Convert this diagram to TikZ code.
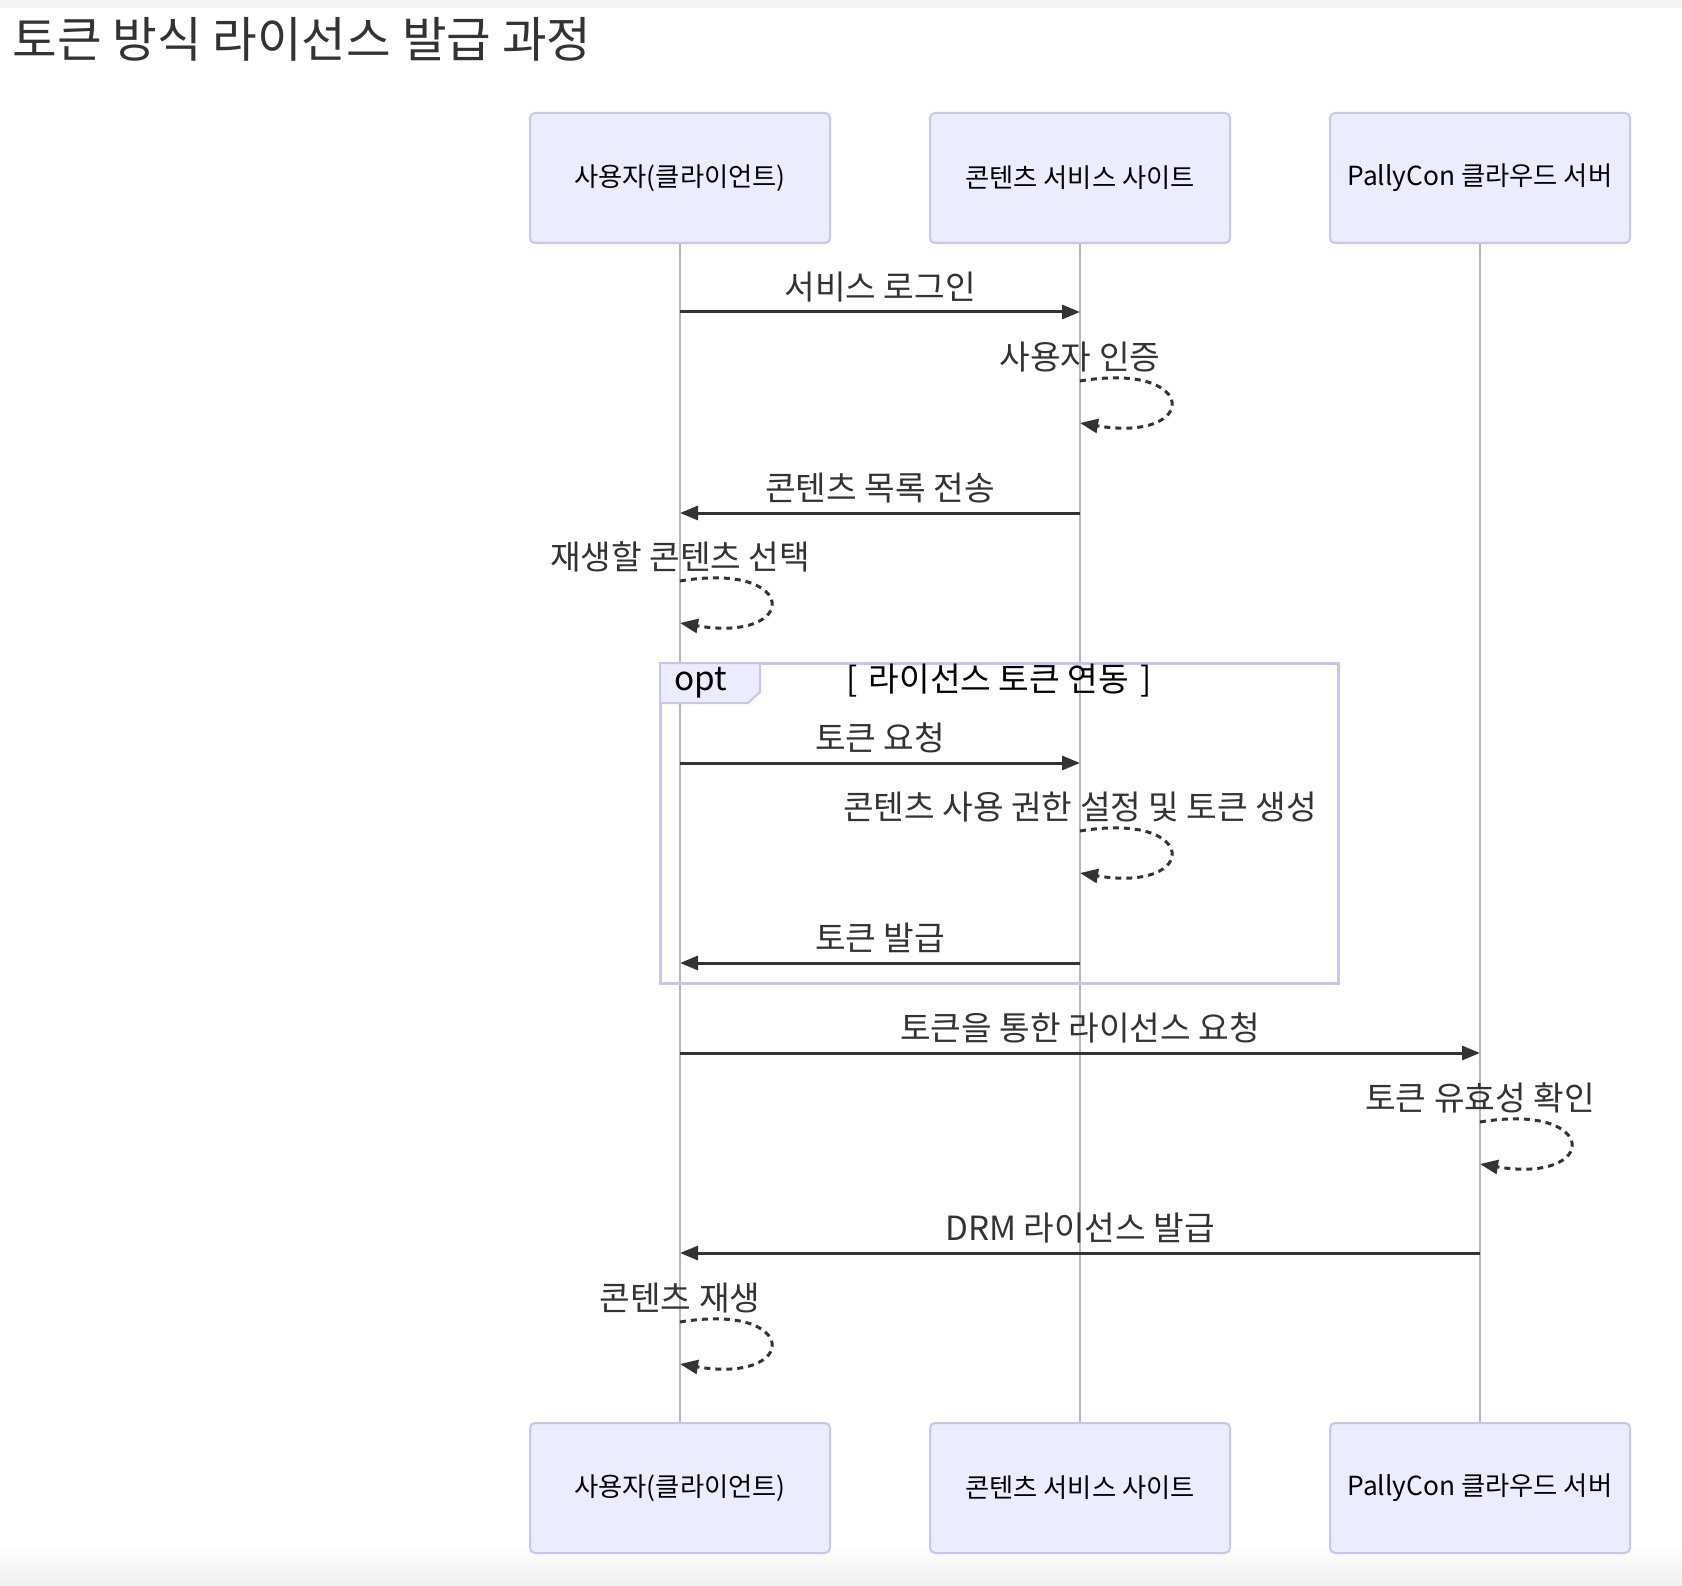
\documentclass[tikz,border=0pt]{standalone}
\usepackage{fontspec}
\setmainfont{Noto Sans CJK KR}
\usetikzlibrary{arrows.meta}
\definecolor{actfill}{HTML}{ECECFF}
\definecolor{actline}{HTML}{CAC4F3}
\definecolor{msgcol}{HTML}{333333}
\definecolor{lifecol}{HTML}{B8B8B8}
\tikzset{
	actor/.style={draw=actline, fill=actfill, line width=2pt, rounded corners=5pt, minimum width=300pt, minimum height=130pt, font=\fontsize{26.3}{31}\selectfont, text=black},
	life/.style={draw=lifecol, line width=1.6pt},
	msg/.style={draw=msgcol, line width=3pt, -{Triangle[length=18pt,width=14pt]}},
	loopline/.style={draw=msgcol, line width=3pt, dash pattern=on 6pt off 5pt, -{Triangle[length=18pt,width=14pt]}},
	lbl/.style={text=msgcol, font=\fontsize{33.3}{40}\selectfont, inner sep=0pt},
}
\def\selfloop(#1){\draw[loopline] (#1) .. controls ([shift={(120,-20)}]#1) and ([shift={(120,62)}]#1) .. ([shift={(0,42)}]#1);}

\begin{document}
\begin{tikzpicture}[x=1pt, y=-1pt]
		%%%%% START %%%%%
		\useasboundingbox (0,0) rectangle (1682,1586);
		\fill[white] (0,0) rectangle (1682,1586);
		\fill[black!4] (0,0) rectangle (1682,8);
		\shade[top color=white, bottom color=black!6] (0,1545) rectangle (1682,1586);
		
		\node[anchor=west, text=msgcol, font=\fontsize{48.5}{56}\selectfont] (title) at (9,39) {토큰 방식 라이선스 발급 과정};
		
		% actors
		\node[actor] (user) at (680,178) {사용자(클라이언트)};
		\node[actor] (site) at (1080,178) {콘텐츠 서비스 사이트};
		\node[actor] (cloud) at (1480,178) {PallyCon 클라우드 서버};
		\node[actor] (user2) at (680,1488) {사용자(클라이언트)};
		\node[actor] (site2) at (1080,1488) {콘텐츠 서비스 사이트};
		\node[actor] (cloud2) at (1480,1488) {PallyCon 클라우드 서버};
		
		\draw[life] (user) -- (user2);
		\draw[life] (site) -- (site2);
		\draw[life] (cloud) -- (cloud2);
		
		% opt frame
		\draw[actline, line width=3pt] (660,663) rectangle (1338,983);
		\draw[actline, fill=actfill, line width=2pt] (660,663) -- (760,663) -- (760,692) -- (748,703) -- (660,703) -- cycle;
		\node[lbl, anchor=west, text=black] (opt) at (674,683) {opt};
		\node[lbl, text=black] (cond) at (999,681) {[\,\,라이선스 토큰 연동\,\,]};
		
		% messages
		\node[lbl] (m1) at (880,287) {서비스 로그인};
		\draw[msg] (user |- 0,312) -- (site |- 0,312);
		
		\node[lbl] (s1) at (1080,357) {사용자 인증};
		\coordinate (a1) at (1080,381);
		\selfloop(a1)
		
		\node[lbl] (m2) at (880,488) {콘텐츠 목록 전송};
		\draw[msg] (site |- 0,513) -- (user |- 0,513);
		
		\node[lbl] (s2) at (680,557) {재생할 콘텐츠 선택};
		\coordinate (a2) at (680,581);
		\selfloop(a2)
		
		\node[lbl] (m3) at (880,738) {토큰 요청};
		\draw[msg] (user |- 0,763) -- (site |- 0,763);
		
		\node[lbl] (s3) at (1080,807) {콘텐츠 사용 권한 설정 및 토큰 생성};
		\coordinate (a3) at (1080,831);
		\selfloop(a3)
		
		\node[lbl] (m4) at (880,938) {토큰 발급};
		\draw[msg] (site |- 0,963) -- (user |- 0,963);
		
		\node[lbl] (m5) at (1080,1028) {토큰을 통한 라이선스 요청};
		\draw[msg] (user |- 0,1053) -- (cloud |- 0,1053);
		
		\node[lbl] (s4) at (1480,1098) {토큰 유효성 확인};
		\coordinate (a4) at (1480,1122);
		\selfloop(a4)
		
		\node[lbl] (m6) at (1080,1228) {DRM 라이선스 발급};
		\draw[msg] (cloud |- 0,1253) -- (user |- 0,1253);
		
		\node[lbl] (s5) at (680,1298) {콘텐츠 재생};
		\coordinate (a5) at (680,1322);
		\selfloop(a5)
		%%%%% END %%%%%
\end{tikzpicture}
\end{document}
